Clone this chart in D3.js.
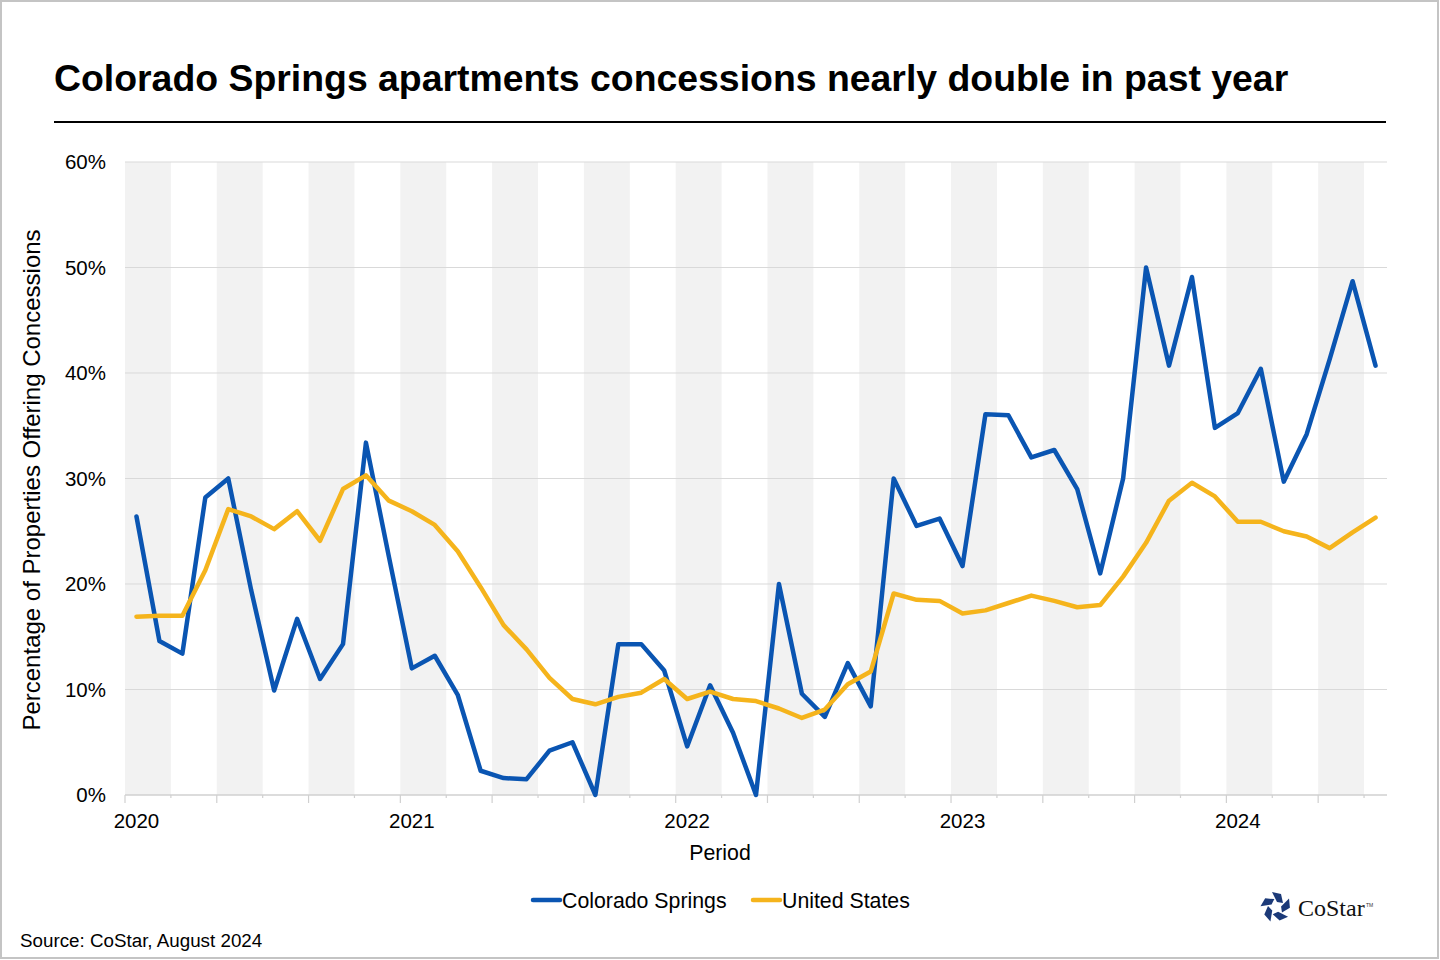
<!DOCTYPE html>
<html>
<head>
<meta charset="utf-8">
<script src="https://cdn.jsdelivr.net/npm/d3@7"></script>
<style>
  body { margin: 0; background: #fff; }
  svg { display: block; font-family: "Liberation Sans", Arial, sans-serif; }
</style>
</head>
<body>
<svg id="chart" width="1440" height="960"></svg>
<script>
// monthly periods, Jan 2020 - Jul 2024
var years = [2020, 2021, 2022, 2023, 2024];
var months = [];
years.forEach(function (yr) {
  for (var m = 0; m < 12; m++) {
    if (yr === 2024 && m > 6) break;
    months.push(yr + "-" + (m + 1));
  }
});

var coloradoSprings = [
  26.4, 14.6, 13.4, 28.2, 30.0, 19.4, 9.9, 16.7, 11.0, 14.3, 33.4, 22.6,
  12.0, 13.2, 9.5, 2.3, 1.6, 1.5, 4.2, 5.0, 0.0, 14.3, 14.3, 11.8,
  4.6, 10.4, 5.9, 0.0, 20.0, 9.6, 7.4, 12.5, 8.4, 30.0, 25.5, 26.2,
  21.7, 36.1, 36.0, 32.0, 32.7, 29.0, 21.0, 30.0, 50.0, 40.7, 49.1, 34.8,
  36.2, 40.4, 29.7, 34.2, 41.3, 48.7, 40.7
];
var unitedStates = [
  16.9, 17.0, 17.0, 21.3, 27.1, 26.4, 25.2, 26.9, 24.1, 29.0, 30.3, 27.9,
  26.9, 25.6, 23.1, 19.7, 16.1, 13.8, 11.1, 9.1, 8.6, 9.3, 9.7, 11.0,
  9.1, 9.8, 9.1, 8.9, 8.2, 7.3, 8.1, 10.5, 11.7, 19.1, 18.5, 18.4,
  17.2, 17.5, 18.2, 18.9, 18.4, 17.8, 18.0, 20.7, 23.9, 27.9, 29.6, 28.3,
  25.9, 25.9, 25.0, 24.5, 23.4, 24.9, 26.3
];
var yTicks = [0, 10, 20, 30, 40, 50, 60];
var series = [
  { name: "Colorado Springs", values: coloradoSprings, color: "#0a55b2" },
  { name: "United States", values: unitedStates, color: "#f5b41c" }
];

function draw() {
  var svg = d3.select("#chart");
  var plotLeft = 125, plotRight = 1387, plotTop = 162, plotBottom = 795;

  // frame
  svg.append("rect").attr("x", 1).attr("y", 1).attr("width", 1437).attr("height", 957)
    .attr("fill", "none").attr("stroke", "#c4c4c4").attr("stroke-width", 2);

  // title
  svg.append("text").attr("x", 54).attr("y", 91)
    .attr("font-size", 37.4).attr("font-weight", "bold").attr("fill", "#000")
    .text("Colorado Springs apartments concessions nearly double in past year");
  svg.append("line").attr("x1", 54).attr("x2", 1386).attr("y1", 122).attr("y2", 122)
    .attr("stroke", "#000").attr("stroke-width", 2);

  var x = d3.scaleBand().domain(months).range([plotLeft, plotRight]).padding(0);
  var y = d3.scaleLinear().domain([0, 60]).range([plotBottom, plotTop]);
  var bw = x.bandwidth();

  // alternating shaded bands, two months each
  var g = svg.append("g");
  g.selectAll("rect.band")
    .data(months.filter(function (d, i) { return i % 4 === 0; }))
    .enter().append("rect")
    .attr("class", "band")
    .attr("x", function (d) { return x(d); })
    .attr("y", plotTop)
    .attr("width", bw * 2)
    .attr("height", plotBottom - plotTop)
    .attr("fill", "#f2f2f2");

  // gridlines
  g.selectAll("line.grid").data(yTicks.slice(1)).enter().append("line")
    .attr("x1", plotLeft).attr("x2", plotRight)
    .attr("y1", function (d) { return y(d); }).attr("y2", function (d) { return y(d); })
    .attr("stroke", "#d9d9d9").attr("stroke-width", 1);

  // y axis labels
  g.selectAll("text.ylab").data(yTicks).enter().append("text")
    .attr("x", 106).attr("y", function (d) { return y(d) + 7; })
    .attr("text-anchor", "end").attr("font-size", 20.5).attr("fill", "#000")
    .text(function (d) { return d + "%"; });

  // x axis line and ticks
  g.append("line").attr("x1", plotLeft).attr("x2", plotRight).attr("y1", plotBottom).attr("y2", plotBottom)
    .attr("stroke", "#d0d0d0").attr("stroke-width", 1.5);
  g.selectAll("line.tick")
    .data(months.filter(function (d, i) { return i % 2 === 0; }))
    .enter().append("line")
    .attr("x1", function (d) { return x(d); }).attr("x2", function (d) { return x(d); })
    .attr("y1", plotBottom)
    .attr("y2", function (d) { return months.indexOf(d) % 4 === 0 ? plotBottom + 8 : plotBottom + 3; })
    .attr("stroke", "#d0d0d0").attr("stroke-width", 1.2);

  // year labels centred on January
  g.selectAll("text.xlab").data(years).enter().append("text")
    .attr("x", function (d) { return x(d + "-1") + bw / 2; })
    .attr("y", 828).attr("text-anchor", "middle").attr("font-size", 20.5).attr("fill", "#000")
    .text(function (d) { return d; });

  // axis titles
  svg.append("text").attr("x", 720).attr("y", 860).attr("text-anchor", "middle")
    .attr("font-size", 21.3).text("Period");
  svg.append("text")
    .attr("transform", "translate(40,480) rotate(-90)")
    .attr("text-anchor", "middle").attr("font-size", 24)
    .text("Percentage of Properties Offering Concessions");

  // lines
  var line = d3.line()
    .x(function (d, i) { return x(months[i]) + bw / 2; })
    .y(function (d) { return y(d); });

  g.selectAll("path.series").data(series).enter().append("path")
    .attr("class", "series")
    .attr("d", function (s) { return line(s.values); })
    .attr("fill", "none")
    .attr("stroke", function (s) { return s.color; })
    .attr("stroke-width", 4.5)
    .attr("stroke-linejoin", "round")
    .attr("stroke-linecap", "round");

  // legend
  var legendX = [532, 752];
  series.forEach(function (s, i) {
    var lg = svg.append("g").attr("transform", "translate(" + legendX[i] + ",900)");
    lg.append("line").attr("x1", 1).attr("x2", 28).attr("y1", 0).attr("y2", 0)
      .attr("stroke", s.color).attr("stroke-width", 4.5).attr("stroke-linecap", "round");
    lg.append("text").attr("x", 30).attr("y", 7.5).attr("font-size", 21.3).text(s.name);
  });

  // source note
  svg.append("text").attr("x", 20).attr("y", 947).attr("font-size", 18.8).text("Source: CoStar, August 2024");

  // CoStar logo
  var logo = svg.append("g").attr("transform", "translate(1276,907)");
  for (var k = 0; k < 5; k++) {
    logo.append("path")
      .attr("d", "M-4,-15 L5,-13 L7,-4 L1,-5 Z")
      .attr("transform", "rotate(" + (k * 72) + ")")
      .attr("fill", "#1c3a78");
  }
  svg.append("text").attr("x", 1298).attr("y", 916)
    .attr("font-family", "'Liberation Serif', 'DejaVu Serif', serif")
    .attr("font-size", 24).attr("fill", "#111").text("CoStar");
  svg.append("text").attr("x", 1366).attr("y", 907)
    .attr("font-size", 5).attr("fill", "#333").text("TM");
}

draw();
</script>
</body>
</html>
